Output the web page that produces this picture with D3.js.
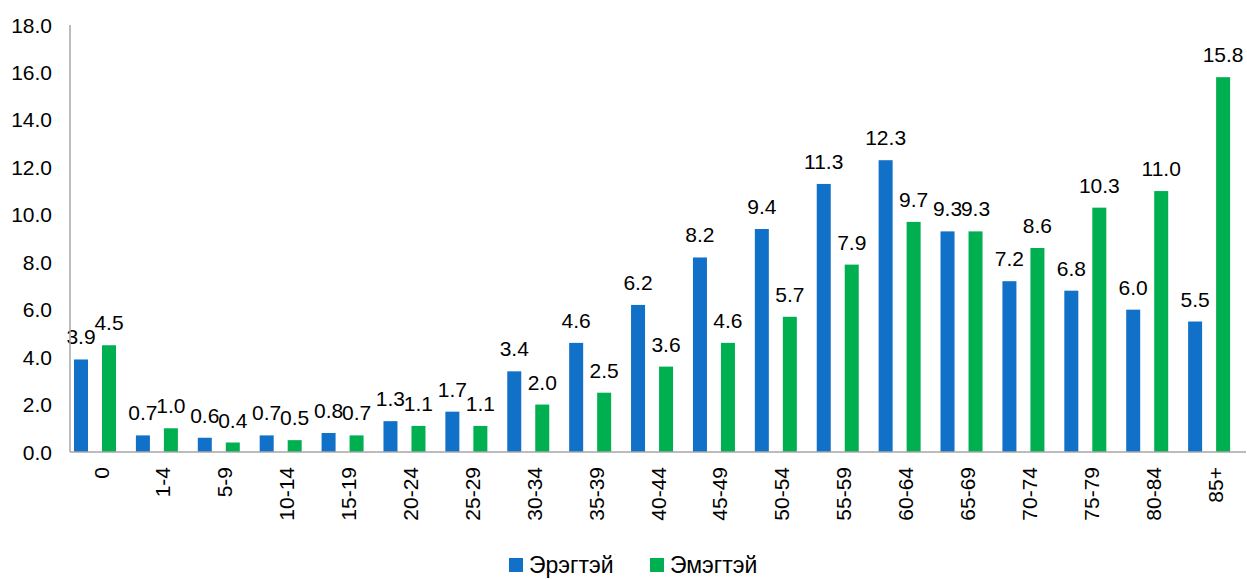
<!DOCTYPE html>
<html>
<head>
<meta charset="utf-8">
<script src="https://cdn.jsdelivr.net/npm/d3@7"></script>
<style>
  body { margin: 0; background: #fff; }
  text { font-family: "Liberation Sans", Arial, sans-serif; fill: #000; }
</style>
</head>
<body>
<div class="chart"></div>
<script>
// age groups
var categories = ["0", "1-4", "5-9", "10-14", "15-19", "20-24", "25-29", "30-34", "35-39",
    "40-44", "45-49", "50-54", "55-59", "60-64", "65-69", "70-74", "75-79", "80-84", "85+"];
var male = [3.9, 0.7, 0.6, 0.7, 0.8, 1.3, 1.7, 3.4, 4.6, 6.2, 8.2, 9.4, 11.3, 12.3, 9.3, 7.2, 6.8, 6.0, 5.5];
var female = [4.5, 1.0, 0.4, 0.5, 0.7, 1.1, 1.1, 2.0, 2.5, 3.6, 4.6, 5.7, 7.9, 9.7, 9.3, 8.6, 10.3, 11.0, 15.8];
var seriesNames = ["Эрэгтэй", "Эмэгтэй"];
var yTicks = [0, 2, 4, 6, 8, 10, 12, 14, 16, 18];

var colors = ["#1170C8", "#00B050"];
var width = 1247, height = 579;

var svg = d3.select(".chart").append("svg")
    .attr("width", width)
    .attr("height", height);

var x0 = d3.scaleBand().domain(categories).range([70, 1246]);
var x1 = d3.scaleBand().domain([0, 1]).range([4, 46]).paddingInner(0.5);
var y = d3.scaleLinear().domain([0, 18]).range([452, 25]);

//Y tick labels
svg.selectAll("text.ytick")
    .data(yTicks)
    .enter().append("text")
    .attr("class", "ytick")
    .attr("x", 52)
    .attr("y", d => y(d))
    .attr("dy", "0.36em")
    .attr("text-anchor", "end")
    .style("font-size", "21px")
    .text(d => d.toFixed(1));

//Bars and labels per series
[male, female].forEach(function (vals, s) {
    var g = svg.append("g");
    g.selectAll("rect")
        .data(vals)
        .enter().append("rect")
        .attr("x", (d, i) => x0(categories[i]) + x1(s))
        .attr("y", d => y(d))
        .attr("width", x1.bandwidth())
        .attr("height", d => y(0) - y(d))
        .attr("fill", colors[s]);

    g.selectAll("text")
        .data(vals)
        .enter().append("text")
        .attr("x", (d, i) => x0(categories[i]) + x1(s) + x1.bandwidth() / 2)
        .attr("y", d => y(d) - 15)
        .attr("text-anchor", "middle")
        .style("font-size", "21px")
        .text(d => d.toFixed(1));
});

//Axis lines
svg.append("line")
    .attr("x1", 70).attr("x2", 70)
    .attr("y1", y(18)).attr("y2", y(0))
    .style("stroke", "#A6A6A6").style("stroke-width", 1.5);
svg.append("line")
    .attr("x1", 70).attr("x2", 1246)
    .attr("y1", y(0)).attr("y2", y(0))
    .style("stroke", "#A6A6A6").style("stroke-width", 1.5);

//Category labels, rotated
svg.selectAll("text.xtick")
    .data(categories)
    .enter().append("text")
    .attr("class", "xtick")
    .attr("transform", d => "translate(" + (x0(d) + x0.bandwidth() / 2) + "," + (y(0) + 15) + ") rotate(-90)")
    .attr("dy", "0.36em")
    .attr("text-anchor", "end")
    .style("font-size", "21px")
    .text(d => d);

//Legend
var legendX = [509, 650];
seriesNames.forEach(function (name, s) {
    svg.append("rect")
        .attr("x", legendX[s]).attr("y", 558)
        .attr("width", 14).attr("height", 14)
        .attr("fill", colors[s]);
    svg.append("text")
        .attr("x", legendX[s] + 20)
        .attr("y", 573)
        .style("font-size", "23px")
        .text(name);
});
</script>
</body>
</html>
